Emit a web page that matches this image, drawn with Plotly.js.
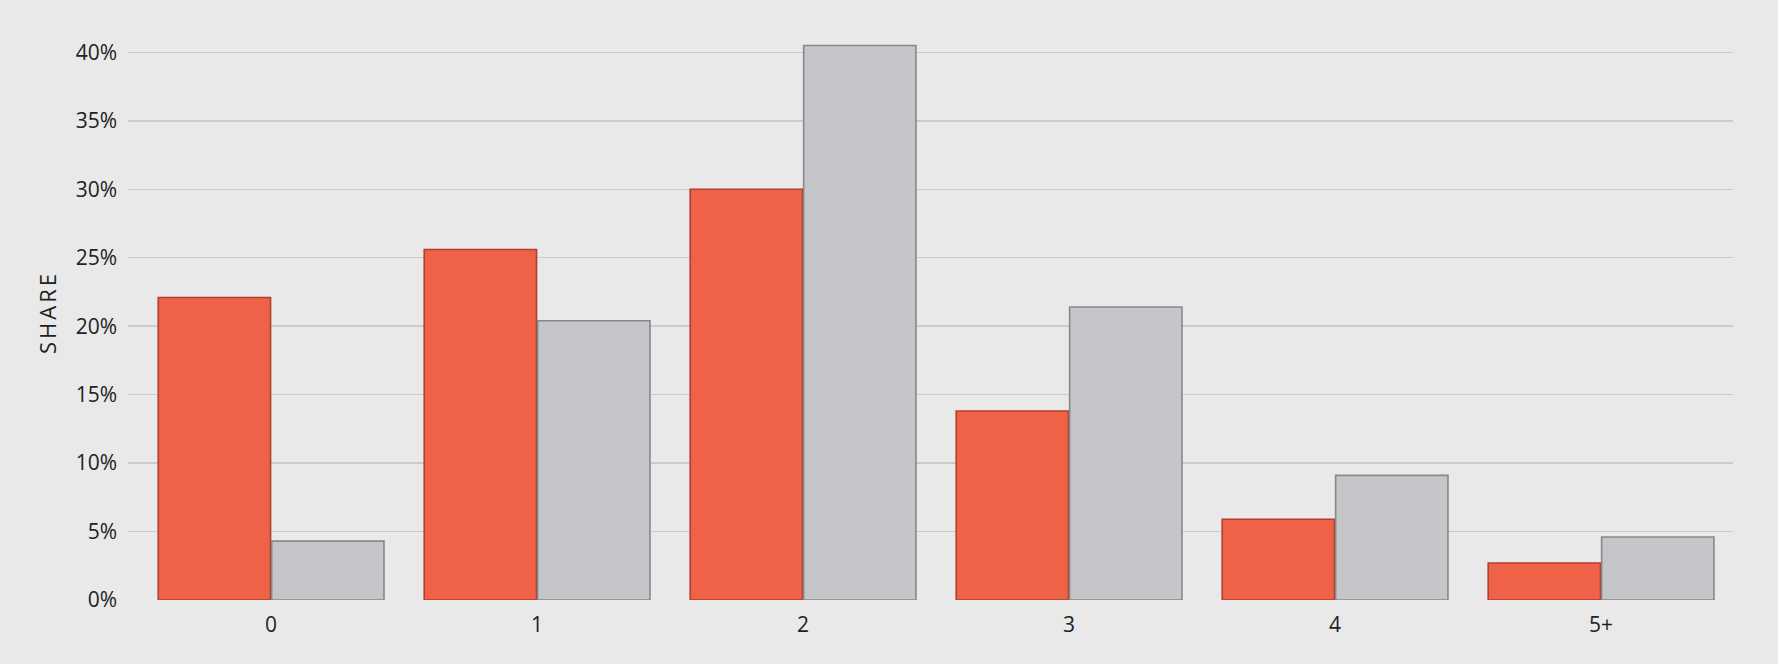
<!DOCTYPE html>
<html>
<head>
<meta charset="utf-8">
<script src="https://cdn.plot.ly/plotly-3.0.1.min.js"></script>
<style>
html,body{margin:0;padding:0;background:#e9e9e9;}
#chart{width:1778px;height:664px;}
.ytitle{letter-spacing:3px;}
</style>
</head>
<body>
<div id="chart"></div>
<script>
const categories = ["0", "1", "2", "3", "4", "5+"];
const seriesA = [22.1, 25.6, 30.0, 13.8, 5.9, 2.7];
const seriesB = [4.3, 20.4, 40.5, 21.4, 9.1, 4.6];
const yTicks = [0, 5, 10, 15, 20, 25, 30, 35, 40];
const yTickLabels = yTicks.map(v => v + "%");

const traces = [
  {
    type: "bar", x: categories, y: seriesA, name: "A",
    marker: {color: "#ef6248", line: {color: "#ad412e", width: 1.6}},
    hoverinfo: "x+y"
  },
  {
    type: "bar", x: categories, y: seriesB, name: "B",
    marker: {color: "#c5c6c9", line: {color: "#88888a", width: 1.6}},
    hoverinfo: "x+y"
  }
];

const font = "'Open Sans', 'Noto Sans', sans-serif";
const layout = {
  width: 1778, height: 664,
  paper_bgcolor: "#e9e9e9", plot_bgcolor: "#e9e9e9",
  margin: {l: 128, r: 45, t: 25, b: 64},
  barmode: "group", bargap: 0.147, bargroupgap: 0.01,
  showlegend: false,
  font: {family: font, color: "#222222", size: 21},
  xaxis: {
    type: "category", range: [-0.538, 5.496],
    showgrid: false, zeroline: false, showline: false,
    ticks: "", ticklabelstandoff: 10,
    tickfont: {family: font, size: 21, color: "#222222"}
  },
  yaxis: {
    range: [0, 42], tickvals: yTicks, ticktext: yTickLabels,
    showgrid: true, gridcolor: "#cbcbcb", gridwidth: 1.5,
    zeroline: false, showline: false, ticks: "", ticklabelstandoff: 10,
    tickfont: {family: font, size: 21, color: "#222222"},
    title: {text: "SHARE", standoff: 12, font: {family: font, size: 22, color: "#222222"}}
  }
};

Plotly.newPlot("chart", traces, layout, {displayModeBar: false, staticPlot: true});
</script>
</body>
</html>
